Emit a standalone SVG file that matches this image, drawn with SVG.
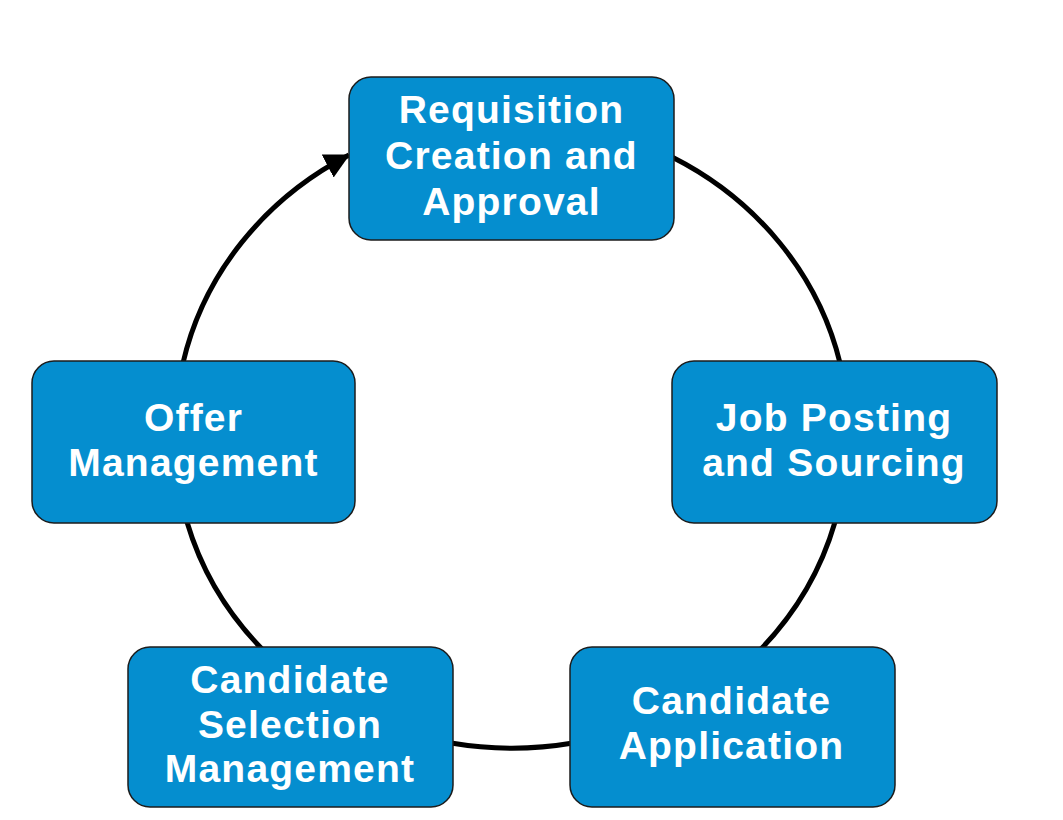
<svg xmlns="http://www.w3.org/2000/svg" width="1063" height="820" viewBox="0 0 1063 820">
  <style>
    .box { fill: #058ECF; stroke: #1c1c1c; stroke-width: 1.5; }
    .lbl { fill: #ffffff; font-family: "Liberation Sans", Arial, sans-serif; font-weight: bold; font-size: 39px; letter-spacing: 1.2px; text-anchor: middle; }
    .conn { fill: none; stroke: #000000; stroke-width: 5; }
  </style>
  <defs>
    <marker id="arrow" markerUnits="userSpaceOnUse" markerWidth="26" markerHeight="28" refX="24" refY="14" orient="auto" viewBox="0 0 26 28">
      <path d="M0,1 L25,14 L0,27 z" fill="#000000"/>
    </marker>
  </defs>
  <rect width="1063" height="820" fill="#ffffff"/>
  <g id="connectors">
    <path class="conn" d="M672,157 A338 313 0 0 1 840,363"/>
    <path class="conn" d="M835,522 A338 313 0 0 1 761,649"/>
    <path class="conn" d="M573,743 A338 313 0 0 1 451,743"/>
    <path class="conn" d="M262,649 A338 313 0 0 1 187,522"/>
    <path class="conn" d="M183,363 A338 313 0 0 1 349,155" marker-end="url(#arrow)"/>
  </g>
  <g id="node-requisition">
    <rect class="box" x="349" y="77" width="325" height="163" rx="22" ry="22"/>
    <text class="lbl" x="511.5" y="123">Requisition</text>
    <text class="lbl" x="511.5" y="168.5">Creation and</text>
    <text class="lbl" x="511.5" y="215">Approval</text>
  </g>
  <g id="node-job-posting">
    <rect class="box" x="672" y="361" width="325" height="162" rx="22" ry="22"/>
    <text class="lbl" x="834" y="430.5">Job Posting</text>
    <text class="lbl" x="834" y="475.5">and Sourcing</text>
  </g>
  <g id="node-candidate-application">
    <rect class="box" x="570" y="647" width="325" height="160" rx="22" ry="22"/>
    <text class="lbl" x="731.5" y="714">Candidate</text>
    <text class="lbl" x="731.5" y="759">Application</text>
  </g>
  <g id="node-candidate-selection">
    <rect class="box" x="128" y="647" width="325" height="160" rx="22" ry="22"/>
    <text class="lbl" x="290" y="693">Candidate</text>
    <text class="lbl" x="290" y="737.5">Selection</text>
    <text class="lbl" x="290" y="782">Management</text>
  </g>
  <g id="node-offer">
    <rect class="box" x="32" y="361" width="323" height="162" rx="22" ry="22"/>
    <text class="lbl" x="193.5" y="431">Offer</text>
    <text class="lbl" x="193.5" y="475.5">Management</text>
  </g>
</svg>
